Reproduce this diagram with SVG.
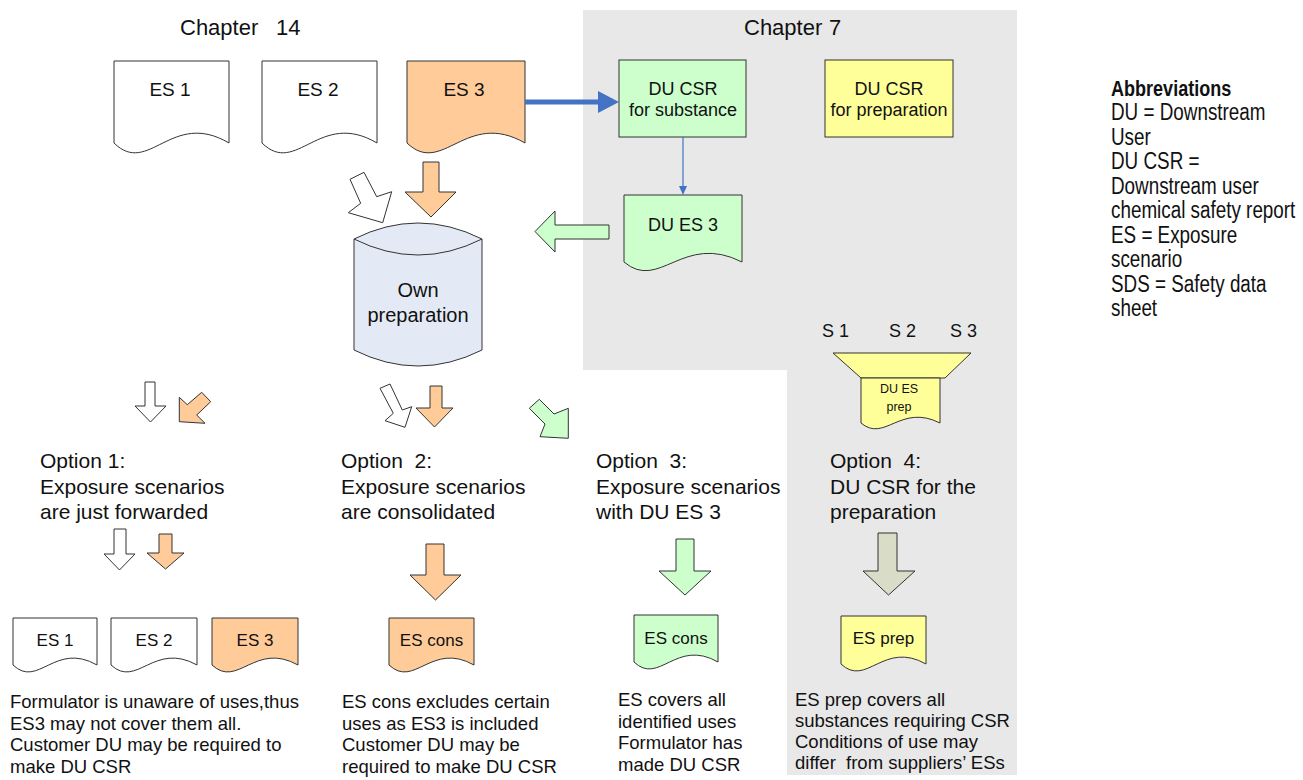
<svg xmlns="http://www.w3.org/2000/svg" width="1303" height="780" viewBox="0 0 1303 780">
<style>
text{font-family:"Liberation Sans",Arial,sans-serif;fill:#111;white-space:pre}
.shape{stroke:#333;stroke-width:1}
.w{fill:#fff}.o{fill:#FFCC99}.g{fill:#CCFFCC}.y{fill:#FFFF99}.b{fill:#E4EAF5}.k{fill:#D9DCC6}
.t18{font-size:18px}.t19{font-size:19px}.t17{font-size:17px}.t21{font-size:21px}.t22{font-size:22px}.t20{font-size:20px}.t185{font-size:18.5px}.t12{font-size:12.5px}
.c{text-anchor:middle}
</style>
<rect width="1303" height="780" fill="#fff"/>
<g id="chapter7-area"><polygon points="583,10 1017,10 1017,775 787,775 787,370 583,370" fill="#E8E8E8"/></g>
<g id="titles">
<text class="t22" x="180" y="35">Chapter<tspan x="276">14</tspan></text>
<text class="t22" x="744" y="35">Chapter<tspan x="829">7</tspan></text>
</g>
<g id="es1-top"><path class="shape w" d="M114,61 H229 V143 C171.5,109 148.5,177 114,143 Z"/><text class="t19 c" x="170" y="96">ES 1</text></g>
<g id="es2-top"><path class="shape w" d="M262,61 H377 V143 C319.5,109 296.5,177 262,143 Z"/><text class="t19 c" x="318" y="96">ES 2</text></g>
<g id="es3-top"><path class="shape o" d="M407,61 H525 V143 C466,109 442.4,177 407,143 Z"/><text class="t19 c" x="464" y="96">ES 3</text></g>
<g id="du-csr-substance"><rect class="shape g" x="619" y="60" width="127" height="77"/><text class="t18 c" x="683" y="95">DU CSR</text><text class="t18 c" x="683" y="116">for substance</text></g>
<g id="du-csr-preparation"><rect class="shape y" x="825" y="60" width="128" height="77"/><text class="t18 c" x="889" y="95">DU CSR</text><text class="t18 c" x="889" y="116">for preparation</text></g>
<g id="du-es3"><path class="shape g" d="M624,195 H742 V262 C683,232 659.4,292 624,262 Z"/><text class="t18 c" x="683" y="231">DU ES 3</text></g>
<g id="own-preparation">
<path class="shape b" d="M354,239 Q418,207 482,239 V350 Q418,382 354,350 Z"/>
<path class="shape" fill="none" d="M354,239 Q418,271 482,239"/>
<text class="t20 c" x="418" y="297">Own</text><text class="t20 c" x="418" y="322">preparation</text>
</g>
<g id="funnel-du-es-prep">
<text class="t18" x="822" y="337">S 1</text><text class="t18" x="889" y="337">S 2</text><text class="t18" x="950" y="337">S 3</text>
<polygon class="shape y" points="833,353 971,353 945,378 861,378"/>
<path class="shape y" d="M861,378 H940 V423 C900.5,403 884.7,443 861,423 Z"/>
<text class="t12 c" x="899" y="393">DU ES</text><text class="t12 c" x="899" y="411">prep</text>
</g>
<g id="connectors">
<line x1="525" y1="102" x2="600" y2="102" stroke="#4472C4" stroke-width="5"/>
<polygon points="598,91 619,102 598,113" fill="#4472C4"/>
<line x1="683" y1="137" x2="683" y2="188" stroke="#4472C4" stroke-width="1.2"/>
<polygon points="679,186 687,186 683,195" fill="#4472C4"/>
<polygon class="shape w" points="350,179.3 364,172.3 376.7,196.7 391.7,191.7 382.7,222.7 348.3,212.7 360.7,203.3"/>
<polygon class="shape o" points="423,162 439,162 439,192 456,192 431,217 405,192 423,192"/>
<polygon class="shape g" points="535,231.5 555,211 555,225 609,225 609,239 555,239 555,252"/>
<polygon class="shape w" points="145,382 155,382 155,406 166,406 150.5,422 135,406 145,406"/>
<polygon class="shape o" points="179.3,421.7 179.3,397.3 187.3,404.7 201.7,392.3 210.7,401.7 196.7,415 205,423.3"/>
<polygon class="shape w" points="380,388.3 390,384 402.3,410 411.7,406.7 405,427.3 385,420.7 393.3,413.3"/>
<polygon class="shape o" points="430,386 442,386 442,408 453,408 434.5,427 416,408 430,408"/>
<polygon class="shape g" points="529.3,408.3 539.3,399.3 554,414 568.3,408.3 568.3,438.3 540,436.7 545,424"/>
<polygon class="shape w" points="114,529 126,529 126,554 135,554 119.5,570 104,554 114,554"/>
<polygon class="shape o" points="159,534 172,534 172,553 184,553 165.5,569 147,553 159,553"/>
<polygon class="shape o" points="426,544 444,544 444,575 461,575 435.5,600 410,575 426,575"/>
<polygon class="shape g" points="676,539 694,539 694,571 711,571 685,595 659,571 676,571"/>
<polygon class="shape k" points="878,533 897,533 897,571 915,571 888.5,595 863,571 878,571"/>
</g>
<g id="option1">
<text class="t21" x="40" y="468">Option 1:</text><text class="t21" x="40" y="494">Exposure scenarios</text><text class="t21" x="40" y="519">are just forwarded</text>
</g>
<g id="option2">
<text class="t21" x="341" y="468">Option  2:</text><text class="t21" x="341" y="494">Exposure scenarios</text><text class="t21" x="341" y="519">are consolidated</text>
</g>
<g id="option3">
<text class="t21" x="596" y="468">Option  3:</text><text class="t21" x="596" y="494">Exposure scenarios</text><text class="t21" x="596" y="519">with DU ES 3</text>
</g>
<g id="option4">
<text class="t21" x="830" y="468">Option  4:</text><text class="t21" x="830" y="494">DU CSR for the</text><text class="t21" x="830" y="519">preparation</text>
</g>
<g id="es1-bottom"><path class="shape w" d="M13,618 H97 V665 C55,641 38.2,689 13,665 Z"/><text class="t17 c" x="55" y="646">ES 1</text></g>
<g id="es2-bottom"><path class="shape w" d="M111,618 H197 V665 C154,641 136.8,689 111,665 Z"/><text class="t17 c" x="154" y="646">ES 2</text></g>
<g id="es3-bottom"><path class="shape o" d="M212,618 H298 V665 C255,641 237.8,689 212,665 Z"/><text class="t17 c" x="255" y="646">ES 3</text></g>
<g id="es-cons-2"><path class="shape o" d="M389,618 H474 V665 C431.5,641 414.5,689 389,665 Z"/><text class="t17 c" x="431.5" y="646">ES cons</text></g>
<g id="es-cons-3"><path class="shape g" d="M634,615 H718 V662 C676,638 659.2,686 634,662 Z"/><text class="t17 c" x="676" y="644">ES cons</text></g>
<g id="es-prep"><path class="shape y" d="M841,616 H926 V664 C883.5,640 866.5,688 841,664 Z"/><text class="t17 c" x="883.5" y="644">ES prep</text></g>
<g id="note1">
<text class="t185" x="10" y="708">Formulator is unaware of uses,thus</text>
<text class="t185" x="10" y="729.5">ES3 may not cover them all.</text>
<text class="t185" x="10" y="751">Customer DU may be required to</text>
<text class="t185" x="10" y="772.5">make DU CSR</text>
</g>
<g id="note2">
<text class="t185" x="342" y="708">ES cons excludes certain</text>
<text class="t185" x="342" y="729.5">uses as ES3 is included</text>
<text class="t185" x="342" y="751">Customer DU may be</text>
<text class="t185" x="342" y="772.5">required to make DU CSR</text>
</g>
<g id="note3">
<text class="t185" x="618" y="706">ES covers all</text>
<text class="t185" x="618" y="727.5">identified uses</text>
<text class="t185" x="618" y="749">Formulator has</text>
<text class="t185" x="618" y="770.5">made DU CSR</text>
</g>
<g id="note4">
<text class="t185" x="795" y="706">ES prep covers all</text>
<text class="t185" x="795" y="727">substances requiring CSR</text>
<text class="t185" x="795" y="748">Conditions of use may</text>
<text class="t185" x="795" y="769">differ  from suppliers’ ESs</text>
</g>
<g id="abbreviations" transform="translate(1111,0) scale(0.82,1)">
<text x="0" y="96" style="font-size:22px;font-weight:bold">Abbreviations</text>
<text x="0" y="120.5" style="font-size:23px">DU = Downstream</text>
<text x="0" y="145" style="font-size:23px">User</text>
<text x="0" y="169.5" style="font-size:23px">DU CSR =</text>
<text x="0" y="194" style="font-size:23px">Downstream user</text>
<text x="0" y="218.5" style="font-size:23px">chemical safety report</text>
<text x="0" y="243" style="font-size:23px">ES = Exposure</text>
<text x="0" y="267.5" style="font-size:23px">scenario</text>
<text x="0" y="292" style="font-size:23px">SDS = Safety data</text>
<text x="0" y="316.5" style="font-size:23px">sheet</text>
</g>
</svg>
